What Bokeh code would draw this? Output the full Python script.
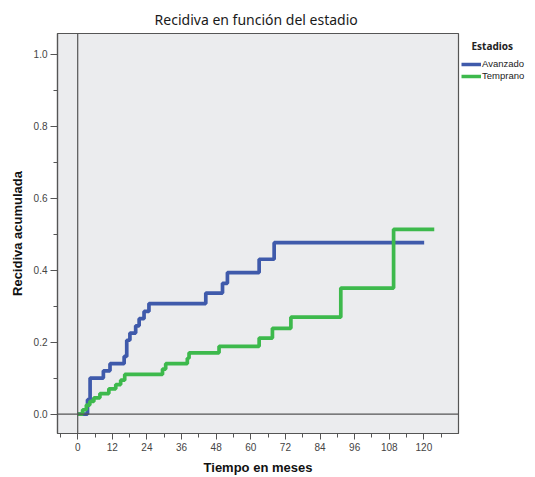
from bokeh.plotting import figure
from bokeh.layouts import row
from bokeh.models import Span, Legend, LegendItem, FixedTicker, Range1d, Label
from bokeh.embed import file_html
from bokeh.resources import INLINE

# ---- data ----
blue_t = [0, 3.4, 4.3, 8.9, 11.2, 16.1, 17.0, 18.1, 20.1, 21.3, 23.0, 24.7,
          44.4, 50.2, 51.9, 62.9, 68.1, 120.1]
blue_v = [0, 0.04, 0.10, 0.12, 0.14, 0.16, 0.205, 0.225, 0.245, 0.265, 0.285, 0.307,
          0.336, 0.363, 0.393, 0.430, 0.476, 0.476]

green_t = [0, 1.7, 3.0, 4.2, 5.6, 7.7, 10.8, 13.2, 14.9, 16.3, 29.4, 30.5,
           38.0, 38.6, 49.0, 62.9, 67.5, 73.9, 91.2, 109.5, 123.6]
green_v = [0, 0.012, 0.025, 0.035, 0.045, 0.057, 0.070, 0.082, 0.094, 0.110, 0.125, 0.140,
           0.155, 0.170, 0.188, 0.211, 0.238, 0.269, 0.350, 0.513, 0.513]

series_names = ["Avanzado", "Temprano"]
x_ticks = [0, 12, 24, 36, 48, 60, 72, 84, 96, 108, 120]
y_ticks = [0.0, 0.2, 0.4, 0.6, 0.8, 1.0]
y_tick_labels = ["0.0", "0.2", "0.4", "0.6", "0.8", "1.0"]

title_text = "Recidiva en función del  estadio"
x_label = "Tiempo en meses"
y_label = "Recidiva acumulada"
legend_title = "Estadios"

BLUE = "#3F5AAB"
GREEN = "#3DB94C"

p = figure(width=460, height=477, output_backend="svg", toolbar_location=None,
           x_range=Range1d(-7, 132), y_range=Range1d(-0.054, 1.057),
           min_border_left=57, min_border_right=2, min_border_top=33,
           min_border_bottom=43)

p.title.text = title_text
p.title.align = "center"
p.title.text_font = "Noto Sans"
p.title.text_font_size = "14px"
p.title.text_font_style = "normal"
p.title.text_color = "#1a1a1a"

p.background_fill_color = "#EBECEE"
p.border_fill_color = "white"
p.outline_line_color = "#555555"
p.outline_line_width = 1.2
p.xgrid.visible = False
p.ygrid.visible = False

# axes
p.xaxis.ticker = FixedTicker(ticks=x_ticks,
                             minor_ticks=[t + 6 for t in x_ticks] + [x_ticks[0] - 6])
p.yaxis.ticker = FixedTicker(ticks=y_ticks,
                             minor_ticks=[round(t + 0.1, 2) for t in y_ticks[:-1]])
p.yaxis.major_label_overrides = {t: l for t, l in zip(y_ticks, y_tick_labels)}

for ax in (p.xaxis, p.yaxis):
    ax.axis_line_color = "#555555"
    ax.axis_line_width = 1.2
    ax.major_tick_line_color = "#555555"
    ax.minor_tick_line_color = "#555555"
    ax.major_tick_in = 0
    ax.minor_tick_in = 0
    ax.major_label_text_font = "Liberation Sans"
    ax.major_label_text_font_size = "10px"
    ax.major_label_text_color = "#444444"
    ax.axis_label_text_font = "Liberation Sans"
    ax.axis_label_text_font_style = "bold"
    ax.axis_label_text_font_size = "13px"
    ax.axis_label_text_color = "#111111"

p.xaxis.major_tick_out = 6
p.xaxis.minor_tick_out = 4
p.yaxis.major_tick_out = 7
p.yaxis.minor_tick_out = 4
p.xaxis.major_label_standoff = 3
p.yaxis.major_label_standoff = 3
p.xaxis.axis_label = x_label
p.yaxis.axis_label = y_label
p.xaxis.axis_label_standoff = 6
p.yaxis.axis_label_standoff = 6

# reference lines
p.add_layout(Span(location=0, dimension="height", line_color="#555555", line_width=1.2))
p.add_layout(Span(location=0, dimension="width", line_color="#555555", line_width=1.2))

p.step(blue_t, blue_v, mode="after", line_color=BLUE, line_width=3.7)
p.step(green_t, green_v, mode="after", line_color=GREEN, line_width=3.7)

# ---- legend panel (separate narrow figure to the right) ----
q = figure(width=75, height=477, output_backend="svg", toolbar_location=None,
           x_axis_type=None, y_axis_type=None,
           x_range=Range1d(1000, 1001), y_range=Range1d(1000, 1001),
           min_border_left=0, min_border_right=0, min_border_top=33,
           min_border_bottom=43)
q.outline_line_color = None
q.background_fill_color = "white"
q.border_fill_color = "white"
q.xgrid.visible = False
q.ygrid.visible = False

lb = q.step(blue_t, blue_v, mode="after", line_color=BLUE, line_width=3.5)
lg = q.step(green_t, green_v, mode="after", line_color=GREEN, line_width=3.5)

legend = Legend(items=[LegendItem(label=series_names[0], renderers=[lb]),
                       LegendItem(label=series_names[1], renderers=[lg])],
                location=(1, 352))
legend.label_text_font = "Liberation Sans"
legend.label_text_font_size = "9.5px"
legend.label_text_color = "#222222"
legend.label_standoff = 1
legend.label_height = 10
legend.glyph_height = 10
legend.glyph_width = 20
legend.spacing = 1
legend.padding = 0
legend.margin = 0
legend.border_line_color = None
legend.background_fill_alpha = 0
q.add_layout(legend, "center")

q.add_layout(Label(x=11, y=388, x_units="screen", y_units="screen", text=legend_title,
                   text_font="Noto Sans", text_font_style="bold",
                   text_font_size="10px", text_color="#222222",
                   text_baseline="middle"))

open("out.html", "w").write(file_html(row(p, q), INLINE))
